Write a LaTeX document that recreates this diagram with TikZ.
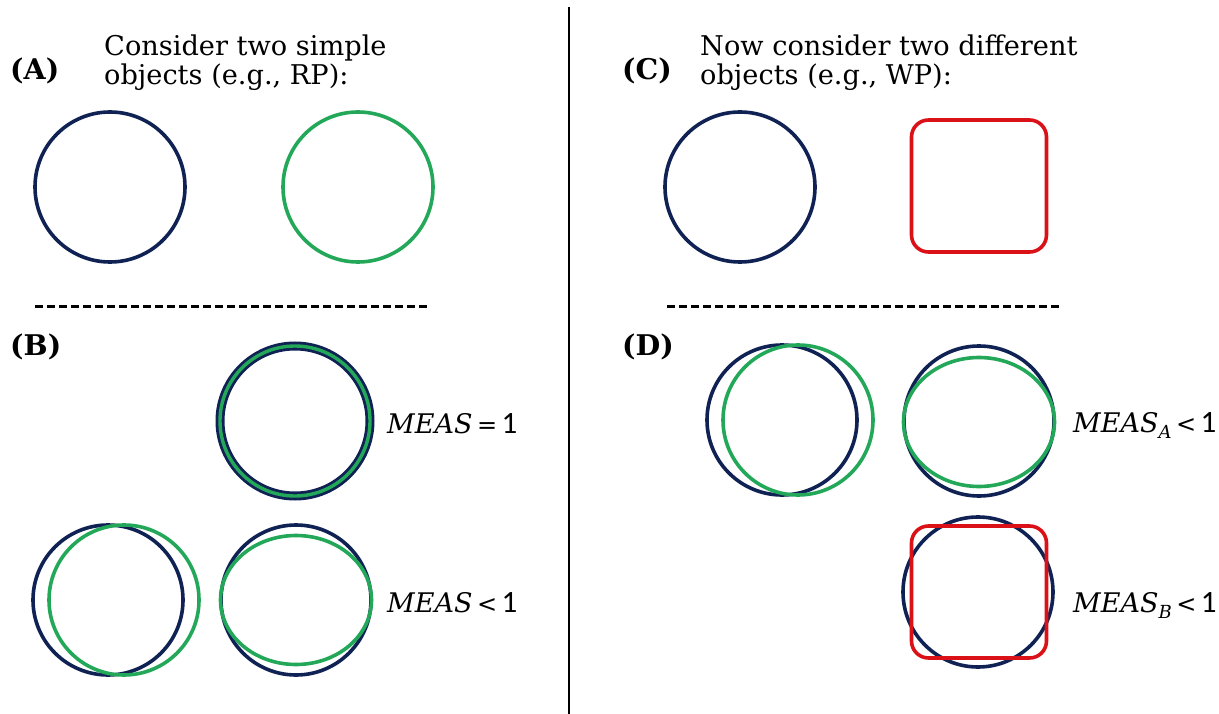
\documentclass[tikz,border=0pt]{standalone}
\usepackage{fontspec}
\setmainfont{DejaVu Serif}
\newfontfamily\numfont{Carlito}
\newfontfamily\relfont{DejaVu Sans}
\usetikzlibrary{shapes.geometric}
\definecolor{navy}{RGB}{16,34,84}
\definecolor{leaf}{RGB}{35,168,90}
\definecolor{ruby}{RGB}{218,18,24}
\newcommand{\relsym}[1]{{\relfont\fontsize{24}{30}\selectfont #1}}
\newcommand{\onenum}{{\numfont\fontsize{31}{34}\selectfont 1}}
\tikzset{
  ring/.style={circle, draw=navy, line width=3.6pt, minimum size=150pt, inner sep=0pt},
  gring/.style={ring, draw=leaf},
  gell/.style={ellipse, draw=leaf, line width=3.6pt, minimum width=151pt, minimum height=129pt, inner sep=0pt},
  rsq/.style={rectangle, draw=ruby, line width=3.6pt, rounded corners=17pt, minimum width=135pt, minimum height=132pt, inner sep=0pt},
  lbl/.style={anchor=base west, inner sep=0pt, font=\bfseries\fontsize{28.5}{32}\selectfont},
  txt/.style={anchor=base west, inner sep=0pt, font=\fontsize{27.2}{32}\selectfont},
  meas/.style={anchor=base west, inner sep=0pt, font=\fontsize{27}{32}\selectfont},
  sep/.style={line width=3pt, dash pattern=on 8pt off 4pt},
}
\begin{document}
\begin{tikzpicture}[x=1pt,y=-1pt]
\useasboundingbox (0,0) rectangle (1219,714);
% divider
\draw[line width=2.5pt] (569,7) -- (569,714);
% panel A
\node[lbl] (la) at (10,80) {(A)};
\node[txt] (ta1) at (104,56) {Consider two simple};
\node[txt] (ta2) at (104,85) {objects (e.g., RP):};
\node[ring] (a1) at (110,187) {};
\node[gring] (a2) at (358,187) {};
\draw[sep] (35,307) -- (430,307);
% panel B
\node[lbl] (lb) at (10,355) {(B)};
\node[ring, line width=9pt] (b1) at (295,421) {};
\node[gring, line width=3.4pt] (b1g) at (295,421) {};
\node[meas] (mb1) at (387,433) {\textit{MEAS}\,\relsym{=}\,\onenum};
\node[ring] (b2) at (108,600) {};
\node[gring] (b2g) at (124,600) {};
\node[ring] (b3) at (296,600) {};
\node[gell] (b3g) at (296,600) {};
\node[meas] (mb2) at (387,612) {\textit{MEAS}\,\relsym{<}\,\onenum};
% panel C
\node[lbl] (lc) at (622,80) {(C)};
\node[txt] (tc1) at (700,56) {Now consider two different};
\node[txt] (tc2) at (700,85) {objects (e.g., WP):};
\node[ring] (c1) at (740,187) {};
\node[rsq] (c2) at (979,186) {};
\draw[sep] (667,307) -- (1060,307);
% panel D
\node[lbl] (ld) at (622,355) {(D)};
\node[ring] (d1) at (782,420) {};
\node[gring] (d1g) at (798,420) {};
\node[ring] (d2) at (979,421) {};
\node[gell] (d2g) at (979,422) {};
\node[meas] (md1) at (1073,432) {\textit{MEAS}{\fontsize{18}{20}\selectfont\raisebox{-6pt}{\textit{A}}}\,\relsym{<}\,\onenum};
\node[ring] (d3) at (978,592) {};
\node[rsq] (d3r) at (979,592) {};
\node[meas] (md2) at (1073,612) {\textit{MEAS}{\fontsize{18}{20}\selectfont\raisebox{-6pt}{\textit{B}}}\,\relsym{<}\,\onenum};
\end{tikzpicture}
\end{document}
